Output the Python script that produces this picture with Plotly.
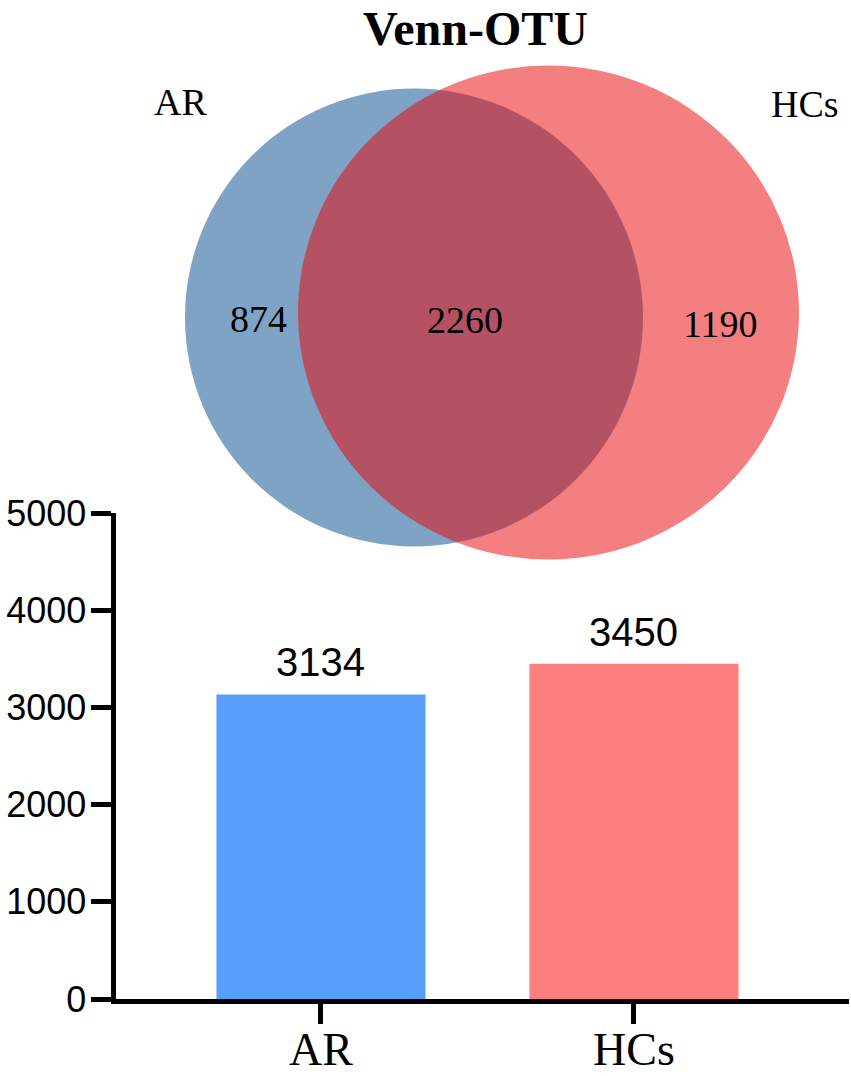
import plotly.graph_objects as go

W, H = 851, 1076

# ---- data ----
groups = ["AR", "HCs"]
otu_totals = [3134, 3450]
venn_sets = ["AR", "HCs"]
venn_unique = [874, 1190]
venn_shared = 2260
y_ticks = [0, 1000, 2000, 3000, 4000, 5000]
bar_colors = ["#56A0FB", "#FF7F7F"]

SANS = "Liberation Sans, Arial, sans-serif"
SERIF = "Liberation Serif, Times New Roman, serif"


def px(x):
    return x / W


def py(y):
    return 1 - y / H


fig = go.Figure()
fig.add_trace(go.Bar(
    x=groups, y=otu_totals, width=0.668,
    marker=dict(color=bar_colors, line=dict(width=0)),
    showlegend=False, hoverinfo="skip",
))

# bar value labels
for g, v in zip(groups, otu_totals):
    fig.add_annotation(x=g, y=v, xref="x", yref="y", text=str(v), showarrow=False,
                       yanchor="bottom", yshift=8,
                       font=dict(family=SANS, size=40, color="black"))

# category labels under the x axis
for g in groups:
    fig.add_annotation(x=g, y=py(1049), xref="x", yref="paper", text=g,
                       showarrow=False, xanchor="center", yanchor="middle",
                       font=dict(family=SERIF, size=46, color="black"))

# ---- Venn diagram (geometry in pixels) ----
blue_c, blue_r = (414, 317.5), 229
red_c, red_rx, red_ry = (548.5, 312.5), 250.5, 247
fig.add_shape(type="circle", xref="paper", yref="paper",
              x0=px(blue_c[0] - blue_r), x1=px(blue_c[0] + blue_r),
              y0=py(blue_c[1] + blue_r), y1=py(blue_c[1] - blue_r),
              fillcolor="rgb(127,163,197)", line=dict(width=0), layer="above")
fig.add_shape(type="circle", xref="paper", yref="paper",
              x0=px(red_c[0] - red_rx), x1=px(red_c[0] + red_rx),
              y0=py(red_c[1] + red_ry), y1=py(red_c[1] - red_ry),
              fillcolor="rgba(234,0,2,0.5)", line=dict(width=0), layer="above")

venn_text = [
    (venn_sets[0], 180, 102),
    (venn_sets[1], 805, 104),
    (str(venn_unique[0]), 258, 318.5),
    (str(venn_shared), 465.5, 320),
    (str(venn_unique[1]), 720, 323.5),
]
for t, x, y in venn_text:
    fig.add_annotation(x=px(x), y=py(y), xref="paper", yref="paper", text=t,
                       showarrow=False, xanchor="center", yanchor="middle",
                       font=dict(family=SERIF, size=38, color="black"))

fig.add_annotation(x=px(476), y=py(29), xref="paper", yref="paper",
                   text="<b>Venn-OTU</b>", showarrow=False,
                   xanchor="center", yanchor="middle",
                   font=dict(family=SERIF, size=48, color="black"))

fig.update_layout(
    template="none",
    width=W, height=H,
    margin=dict(l=0, r=0, t=0, b=0),
    plot_bgcolor="white", paper_bgcolor="white",
    showlegend=False,
    xaxis=dict(
        domain=[115.5 / W, 849 / W], range=[-0.6565, 1.687],
        showline=True, linewidth=5, linecolor="black",
        ticks="outside", ticklen=20, tickwidth=4.5, tickcolor="black",
        showticklabels=False,
        showgrid=False, zeroline=False, automargin=False, fixedrange=True,
    ),
    yaxis=dict(
        domain=[(H - 999) / H, (H - 513) / H], range=[0, 5000],
        tickvals=y_ticks, ticktext=[str(v) for v in y_ticks],
        showline=True, linewidth=5, linecolor="black",
        ticks="outside", ticklen=20, tickwidth=4.5, tickcolor="black",
        tickfont=dict(family=SANS, size=36, color="black"),
        ticklabelstandoff=-3,
        showgrid=False, zeroline=False, automargin=False, fixedrange=True,
    ),
)

fig.write_html(
    "out.html",
    config={"displayModeBar": False},
    post_script="document.body.style.margin='0';document.body.style.padding='0';",
)
